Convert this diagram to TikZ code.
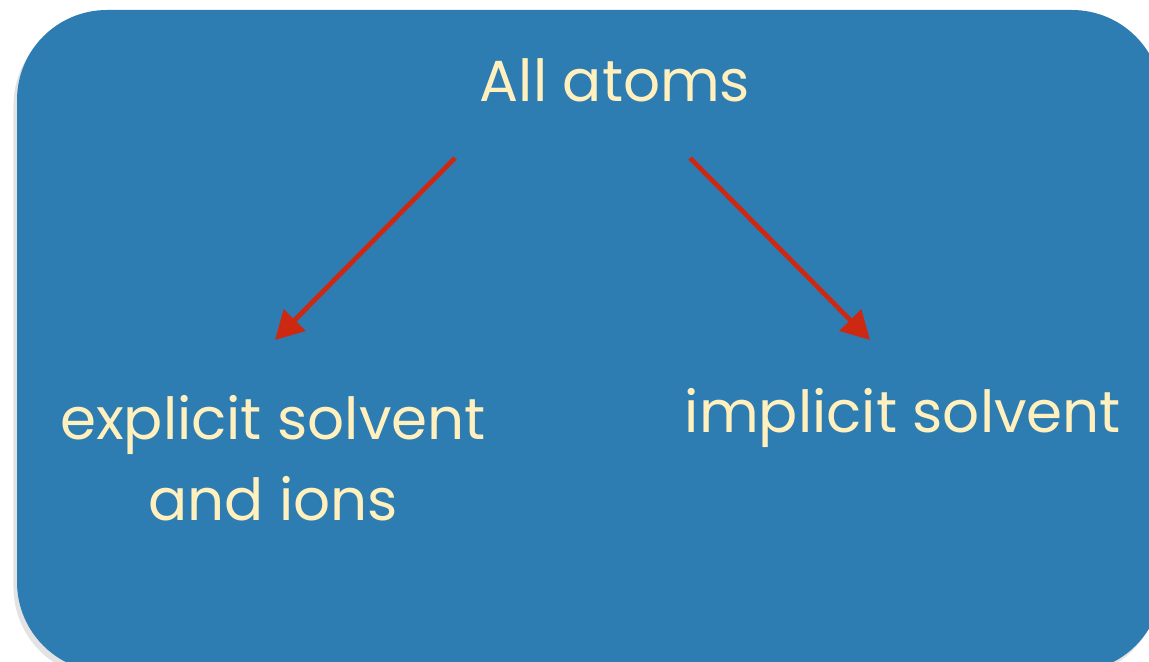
\documentclass[tikz,border=0pt]{standalone}
\usepackage{fontspec}
\setmainfont{Poppins}
\usetikzlibrary{arrows.meta,shadows}

\definecolor{paperblue}{RGB}{46,125,178}
\definecolor{chalk}{RGB}{255,240,190}
\definecolor{arrowred}{RGB}{204,40,18}

\tikzset{
  label/.style={text=chalk, font=\fontsize{33}{46}\selectfont, align=center},
  redarrow/.style={draw=arrowred, line width=2.7pt,
    -{Triangle[length=16pt,width=17pt]}}
}

\begin{document}
\begin{tikzpicture}[x=0.02cm,y=-0.02cm]
  \useasboundingbox (0,0) rectangle (1149,662);

  % the card
  \begin{scope}
    \clip (0,0) rectangle (1149,662);
    \fill[paperblue, rounded corners=90*0.02cm,
      drop shadow={shadow xshift=-2pt, shadow yshift=-3pt, opacity=0.22}]
      (17,10) rectangle (1162,672);
  \end{scope}

  \node[label] (atoms) at (615,80) {All atoms};
  \node[label] (explicit) at (273,458) {explicit solvent\\and ions};
  \node[label] (implicit) at (903,418) {implicit solvent};

  \coordinate (leftTail) at (455,158);
  \coordinate (leftHead) at (275,340);
  \coordinate (rightTail) at (690,158);
  \coordinate (rightHead) at (870,340);

  \draw[redarrow] (leftTail) -- (leftHead);
  \draw[redarrow] (rightTail) -- (rightHead);
\end{tikzpicture}
\end{document}
